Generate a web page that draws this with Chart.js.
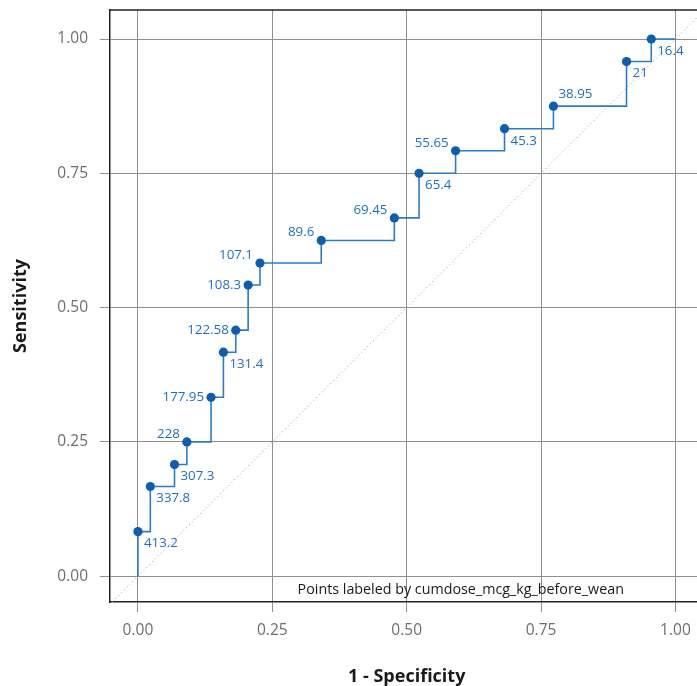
<!DOCTYPE html>
<html>
<head>
<meta charset="utf-8">
<script src="https://cdn.jsdelivr.net/npm/chart.js@4"></script>
<style>
  html, body { margin: 0; padding: 0; background: #ffffff; overflow: hidden; }
  #wrap { width: 697px; height: 686px; position: relative; overflow: hidden; }
  #c { position: absolute; left: 0; top: 0; }
</style>
</head>
<body>
<div id="wrap"><canvas id="c" width="708" height="686"></canvas></div>
<script>
// ---- data ----
const fpr = [0, 0.023, 0.068, 0.091, 0.136, 0.159, 0.182, 0.205, 0.227, 0.341, 0.477, 0.523, 0.591, 0.682, 0.773, 0.909, 0.955];
const tpr = [0.083, 0.167, 0.208, 0.25, 0.333, 0.417, 0.458, 0.542, 0.583, 0.625, 0.667, 0.75, 0.792, 0.833, 0.875, 0.958, 1.0];
const thresholdLabels = ["413.2", "337.8", "307.3", "228", "177.95", "131.4", "122.58", "108.3", "107.1", "89.6", "69.45", "65.4", "55.65", "45.3", "38.95", "21", "16.4"];
const curveStart = [0, 0];
const curveEnd = [1, 1];
const diagonal = [-0.1, 1.1];
const xTicks = [0, 0.25, 0.5, 0.75, 1.0];
const yTicks = [0, 0.25, 0.5, 0.75, 1.0];
const xTitle = "1 - Specificity";
const yTitle = "Sensitivity";
const note = "Points labeled by cumdose_mcg_kg_before_wean";

// label placement (layout only): br = below-right, al = above-left, l = left, ar = above-right
const labelSide = ["br", "br", "br", "al", "l", "br", "l", "l", "al", "al", "al", "br", "al", "br", "ar", "br", "br"];

const FONT = "'Open Sans', 'Noto Sans', sans-serif";

const pts = fpr.map((x, i) => ({ x: x, y: tpr[i] }));
const curve = [{ x: curveStart[0], y: curveStart[1] }].concat(pts, [{ x: curveEnd[0], y: curveEnd[1] }]);
const diag = diagonal.map(v => ({ x: v, y: v }));

const offsets = {
  br: { dx: 6, dy: 12, align: "left" },
  al: { dx: -7, dy: -8, align: "right" },
  l:  { dx: -7, dy: 0, align: "right" },
  ar: { dx: 5, dy: -12, align: "left" }
};

function fixBox(s, w, h) {
  if (w !== null) s.width = w;
  if (h !== null) s.height = h;
  s.paddingLeft = 0; s.paddingRight = 0; s.paddingTop = 0; s.paddingBottom = 0;
}

const labelPlugin = {
  id: "pointLabels",
  afterDatasetsDraw(chart) {
    const ctx = chart.ctx;
    const meta = chart.getDatasetMeta(2);
    ctx.save();
    ctx.font = "13.3px " + FONT;
    ctx.fillStyle = "#1f6fc1";
    ctx.textBaseline = "middle";
    meta.data.forEach((el, i) => {
      const o = offsets[labelSide[i]];
      ctx.textAlign = o.align;
      ctx.fillText(thresholdLabels[i], el.x + o.dx, el.y + o.dy);
    });
    ctx.restore();
  },
  afterDraw(chart) {
    const ctx = chart.ctx;
    const a = chart.chartArea;
    ctx.save();
    ctx.strokeStyle = "#222222";
    ctx.lineWidth = 1.5;
    ctx.beginPath();
    ctx.moveTo(a.left, a.top);
    ctx.lineTo(a.right, a.top);
    ctx.lineTo(a.right, a.bottom);
    ctx.stroke();
    ctx.font = "14.3px " + FONT;
    ctx.fillStyle = "#1a1a1a";
    ctx.textAlign = "left";
    ctx.textBaseline = "middle";
    ctx.fillText(note, chart.scales.x.getPixelForValue(0.297), a.bottom - 12);
    ctx.restore();
  }
};

new Chart(document.getElementById("c"), {
  type: "scatter",
  data: {
    datasets: [
      {
        data: diag,
        showLine: true,
        borderColor: "#b0b0b0",
        borderWidth: 1,
        borderDash: [1.5, 2.5],
        pointRadius: 0,
        order: 3
      },
      {
        data: curve,
        showLine: true,
        stepped: "before",
        borderColor: "#2a7cca",
        borderWidth: 1.6,
        pointRadius: 0,
        order: 2
      },
      {
        data: pts,
        showLine: false,
        pointRadius: 4.6,
        pointBackgroundColor: "#0b5fb1",
        pointBorderColor: "#0b5fb1",
        pointBorderWidth: 0,
        order: 1
      }
    ]
  },
  options: {
    responsive: false,
    animation: false,
    devicePixelRatio: 1,
    layout: { padding: { top: 10, right: 0, left: 0, bottom: 0 } },
    plugins: { legend: { display: false }, tooltip: { enabled: false } },
    scales: {
      x: {
        type: "linear",
        min: -0.052,
        max: 1.052,
        afterBuildTicks: s => { s.ticks = xTicks.map(v => ({ value: v })); },
        afterFit: s => { fixBox(s, null, 84); },
        ticks: {
          color: "#6e6e6e",
          font: { family: FONT, size: 15.5 },
          padding: 9,
          callback: v => v.toFixed(2)
        },
        grid: { color: "#8f8f8f", lineWidth: 1, tickLength: 10 },
        border: { color: "#222222", width: 1.5 },
        title: {
          display: true,
          text: xTitle,
          color: "#1a1a1a",
          font: { family: FONT, size: 18, weight: "bold", lineHeight: 1 },
          padding: { top: 0, bottom: 0 }
        }
      },
      y: {
        type: "linear",
        min: -0.048,
        max: 1.054,
        afterBuildTicks: s => { s.ticks = yTicks.map(v => ({ value: v })); },
        afterFit: s => { fixBox(s, 110, null); },
        ticks: {
          color: "#6e6e6e",
          font: { family: FONT, size: 15.5 },
          padding: 12,
          callback: v => v.toFixed(2)
        },
        grid: { color: "#8f8f8f", lineWidth: 1, tickLength: 10 },
        border: { color: "#222222", width: 1.5 },
        title: {
          display: true,
          text: yTitle,
          color: "#1a1a1a",
          font: { family: FONT, size: 18, weight: "bold", lineHeight: 1 },
          padding: { top: 12, bottom: 0 }
        }
      }
    }
  },
  plugins: [labelPlugin]
});
</script>
</body>
</html>
